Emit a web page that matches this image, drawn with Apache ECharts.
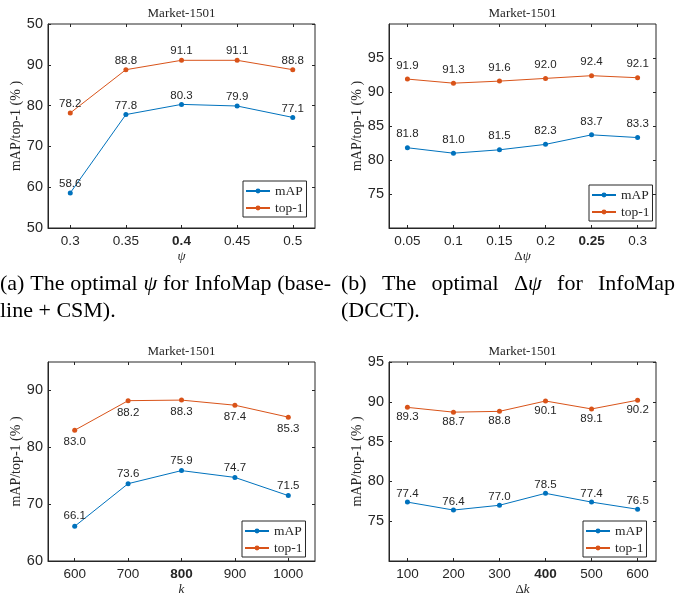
<!DOCTYPE html>
<html>
<head>
<meta charset="utf-8">
<script src="https://cdn.jsdelivr.net/npm/echarts@6/dist/echarts.min.js"></script>
<style>
html, body { margin: 0; padding: 0; background: #fff; }
#main { width: 683px; height: 597px; }
</style>
</head>
<body>
<div id="main"></div>
<script>
// (a) psi, baseline + CSM
const psiValues = [0.3, 0.35, 0.4, 0.45, 0.5];
const psiMap = [58.6, 77.8, 80.3, 79.9, 77.1];
const psiTop1 = [78.2, 88.8, 91.1, 91.1, 88.8];
const psiYTicks = [50, 60, 70, 80, 90, 100];
const psiYLabels = ['50', '60', '70', '80', '90', '50'];

// (b) delta psi, DCCT
const dpsiValues = [0.05, 0.1, 0.15, 0.2, 0.25, 0.3];
const dpsiMap = [81.8, 81.0, 81.5, 82.3, 83.7, 83.3];
const dpsiTop1 = [91.9, 91.3, 91.6, 92.0, 92.4, 92.1];
const dpsiYTicks = [75, 80, 85, 90, 95];

// (c) k
const kValues = [600, 700, 800, 900, 1000];
const kMap = [66.1, 73.6, 75.9, 74.7, 71.5];
const kTop1 = [83.0, 88.2, 88.3, 87.4, 85.3];
const kYTicks = [60, 70, 80, 90];

// (d) delta k
const dkValues = [100, 200, 300, 400, 500, 600];
const dkMap = [77.4, 76.4, 77.0, 78.5, 77.4, 76.5];
const dkTop1 = [89.3, 88.7, 88.8, 90.1, 89.1, 90.2];
const dkYTicks = [75, 80, 85, 90, 95];

const BLUE = '#0072BD';
const ORANGE = '#D95319';
const INK = '#262626';
const SANS = '"Liberation Sans", Arial, sans-serif';
const SERIF = '"Liberation Serif", "Times New Roman", serif';

const panels = [
  { grid: [48, 24, 267, 204], x: psiValues, xr: [0.28, 0.52], yr: [50, 100], yt: psiYTicks, yl: psiYLabels,
    bold: 0.4, name: '{i|ψ}', map: psiMap, top1: psiTop1,
    mapPos: ['top', 0.5], topPos: ['top', 0.5], legend: [243, 181] },
  { grid: [389, 24, 267, 204], x: dpsiValues, xr: [0.03, 0.32], yr: [70, 100], yt: dpsiYTicks, yl: null,
    bold: 0.25, name: '{n|Δ}{i|ψ}', map: dpsiMap, top1: dpsiTop1,
    mapPos: ['top', 5], topPos: ['top', 5], legend: [589, 185] },
  { grid: [48, 362, 267, 202], x: kValues, xr: [550, 1050], yr: [60, 95], yt: kYTicks, yl: null,
    bold: 800, name: '{i|k}', map: kMap, top1: kTop1,
    mapPos: ['top', 1.5], topPos: ['bottom', 3.5], legend: [242, 521] },
  { grid: [389, 362, 267, 202], x: dkValues, xr: [60, 640], yr: [70, 95], yt: dkYTicks, yl: null,
    bold: 400, name: '{n|Δ}{i|k}', map: dkMap, top1: dkTop1,
    mapPos: ['top', 0], topPos: ['bottom', 1], legend: [583, 521] }
];

const grids = [], xAxes = [], yAxes = [], series = [], titles = [], legends = [];

panels.forEach((p, i) => {
  const [l, t, w, h] = p.grid;
  grids.push({ left: l, top: t, width: w, height: h, show: true, borderColor: INK, borderWidth: 1, backgroundColor: '#fff' });

  titles.push({
    text: 'Market-1501', left: l + w / 2, top: t - 16.5, textAlign: 'center', padding: 0,
    textStyle: { fontFamily: SERIF, fontSize: 13, fontWeight: 'normal', color: INK }
  });

  const tickCommon = { show: true, inside: true, length: 3, lineStyle: { color: INK, width: 1 } };

  // bottom x axis
  xAxes.push({
    gridIndex: i, type: 'value', min: p.xr[0], max: p.xr[1], position: 'bottom',
    splitLine: { show: false },
    axisLine: { show: true, lineStyle: { color: INK, width: 1 } },
    axisTick: Object.assign({ customValues: p.x }, tickCommon),
    axisLabel: {
      customValues: p.x, margin: 6, fontFamily: SANS, fontSize: 13.5, color: INK,
      formatter: v => (Math.abs(v - p.bold) < 1e-9 ? '{b|' + v + '}' : String(v)),
      rich: { b: { fontFamily: SANS, fontSize: 13.5, fontWeight: 'bold', color: INK } }
    },
    name: p.name, nameLocation: 'middle', nameGap: 22,
    nameTextStyle: {
      rich: {
        i: { fontFamily: SERIF, fontStyle: 'italic', fontSize: 13, color: INK },
        n: { fontFamily: SERIF, fontSize: 13, color: INK }
      }
    }
  });
  // top x axis (inward ticks only)
  xAxes.push({
    gridIndex: i, type: 'value', min: p.xr[0], max: p.xr[1], position: 'top',
    splitLine: { show: false }, axisLine: { show: false },
    axisTick: Object.assign({ customValues: p.x }, tickCommon),
    axisLabel: { show: false }
  });

  // left y axis
  yAxes.push({
    gridIndex: i, type: 'value', min: p.yr[0], max: p.yr[1], position: 'left',
    splitLine: { show: false },
    axisLine: { show: true, lineStyle: { color: INK, width: 1 } },
    axisTick: Object.assign({ customValues: p.yt }, tickCommon),
    axisLabel: {
      customValues: p.yt, margin: 5, fontFamily: SANS, fontSize: 14.5, color: INK,
      formatter: v => (p.yl ? p.yl[p.yt.indexOf(v)] : String(v))
    },
    name: 'mAP/top-1 (% )', nameLocation: 'middle', nameRotate: 90, nameGap: 18,
    nameTextStyle: { fontFamily: SERIF, fontSize: 14, color: INK }
  });
  // right y axis (inward ticks only)
  yAxes.push({
    gridIndex: i, type: 'value', min: p.yr[0], max: p.yr[1], position: 'right',
    splitLine: { show: false }, axisLine: { show: false },
    axisTick: Object.assign({ customValues: p.yt }, tickCommon),
    axisLabel: { show: false }
  });

  const mk = (name, vals, color, pos) => ({
    name: name, type: 'line', xAxisIndex: i * 2, yAxisIndex: i * 2,
    data: p.x.map((x, j) => [x, vals[j]]),
    symbol: 'circle', symbolSize: 5,
    itemStyle: { color: color },
    lineStyle: { color: color, width: 1 },
    label: {
      show: true, position: pos[0], distance: pos[1],
      fontFamily: SANS, fontSize: 11.5, color: INK,
      formatter: d => d.value[1].toFixed(1)
    },
    emphasis: { disabled: true },
    z: 3
  });
  series.push(mk('mAP', p.map, BLUE, p.mapPos));
  series.push(mk('top-1', p.top1, ORANGE, p.topPos));

  legends.push({
    left: p.legend[0], top: p.legend[1], orient: 'vertical',
    data: ['mAP', 'top-1'], selectedMode: false,
    itemWidth: 24, itemHeight: 6, itemGap: 3, padding: [3, 3, 2, 2],
    borderColor: INK, borderWidth: 1, backgroundColor: '#fff',
    textStyle: { fontFamily: SERIF, fontSize: 13.5, color: INK }
  });
});

// captions, laid out word by word (justified like the paper's columns)
const CAP_SIZE = 22;
const measureCtx = document.createElement('canvas').getContext('2d');
function partFont(italic) {
  return (italic ? 'italic ' : '') + CAP_SIZE + 'px ' + SERIF;
}
function wordWidth(parts) {
  return parts.reduce((s, pt) => {
    measureCtx.font = partFont(pt[1]);
    return s + measureCtx.measureText(pt[0]).width;
  }, 0);
}
function captionLine(words, x0, x1, y, justify) {
  const widths = words.map(wordWidth);
  const total = widths.reduce((a, b) => a + b, 0);
  measureCtx.font = partFont(false);
  const gap = justify ? (x1 - x0 - total) / (words.length - 1) : measureCtx.measureText(' ').width;
  const out = [];
  let x = x0;
  words.forEach((parts, k) => {
    let px = x;
    parts.forEach(pt => {
      out.push({
        type: 'text', x: px, y: y, silent: true,
        style: { text: pt[0], font: partFont(pt[1]), fill: '#000', verticalAlign: 'middle' }
      });
      measureCtx.font = partFont(pt[1]);
      px += measureCtx.measureText(pt[0]).width;
    });
    x += widths[k] + gap;
  });
  return out;
}
const W = s => [[s, false]];
const captionA1 = [W('(a)'), W('The'), W('optimal'), [['ψ', true]], W('for'), W('InfoMap'), W('(base-')];
const captionA2 = [W('line'), W('+'), W('CSM).')];
const captionB1 = [W('(b)'), W('The'), W('optimal'), [['Δ', false], ['ψ', true]], W('for'), W('InfoMap')];
const captionB2 = [W('(DCCT).')];

const graphics = []
  .concat(captionLine(captionA1, 0, 331, 284, true))
  .concat(captionLine(captionA2, 0, 331, 311, false))
  .concat(captionLine(captionB1, 341, 675, 284, true))
  .concat(captionLine(captionB2, 341, 675, 311, false));

const chart = echarts.init(document.getElementById('main'));
chart.setOption({
  animation: false,
  backgroundColor: '#fff',
  title: titles,
  legend: legends,
  grid: grids,
  xAxis: xAxes,
  yAxis: yAxes,
  series: series,
  graphic: graphics
});
</script>
</body>
</html>
